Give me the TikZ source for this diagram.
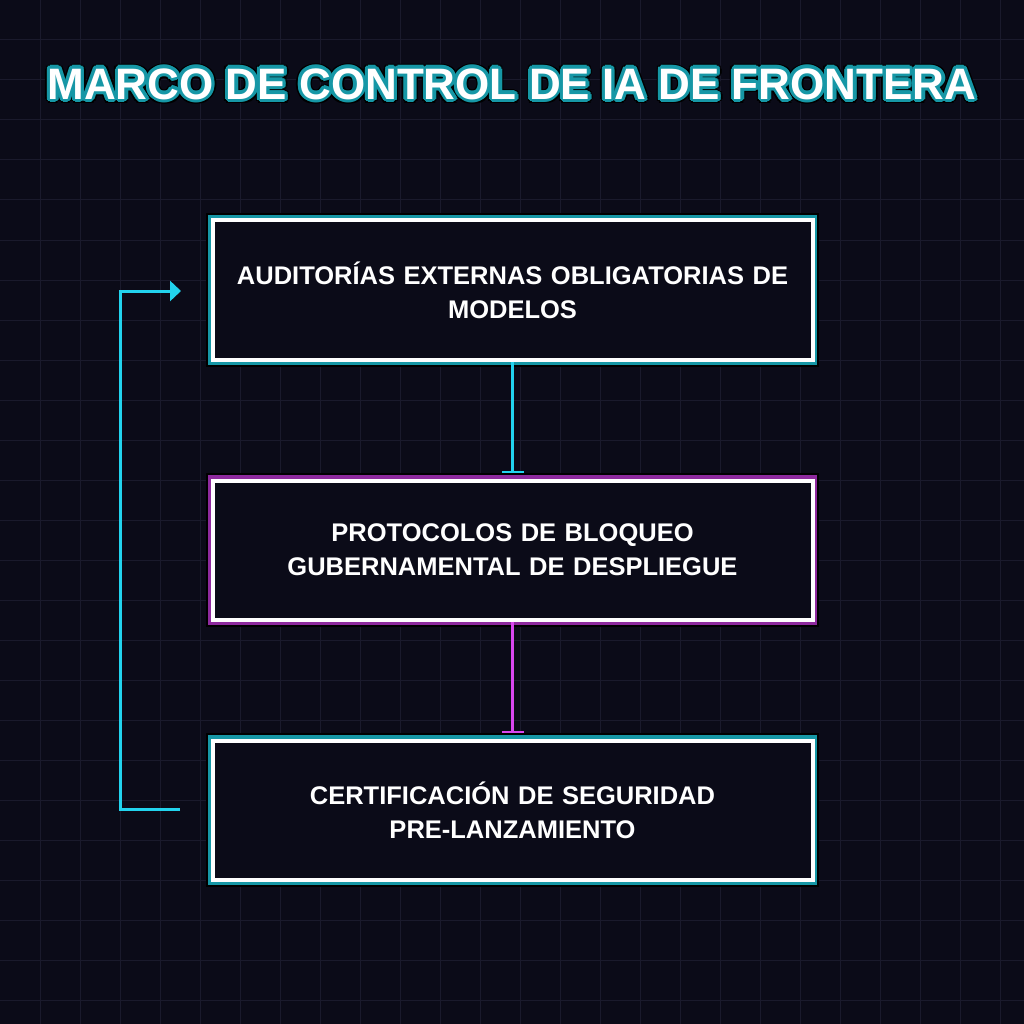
\documentclass[tikz,border=0pt]{standalone}
\usepackage{fontspec}
\setmainfont{Liberation Sans}
\usetikzlibrary{arrows.meta,calc}
\definecolor{bg}{HTML}{0B0B18}
\definecolor{gridc}{HTML}{1A1A2C}
\definecolor{cyanc}{HTML}{22D3EE}
\definecolor{tealc}{HTML}{1697A6}
\definecolor{magc}{HTML}{D946EF}
\definecolor{purc}{HTML}{8E2A9E}
\tikzset{
  box/.style={draw=white,line width=4pt,fill=bg,minimum width=600pt,minimum height=139pt,inner sep=0pt,
    font=\bfseries\fontsize{25.5pt}{34pt}\selectfont,text=white,align=center,text width=590pt},
  link/.style={line width=3pt,-{Bar[width=22pt,line width=2pt]}},
}
\begin{document}
\begin{tikzpicture}[x=1pt,y=-1pt]
\fill[bg] (0,0) rectangle (1024,1024);
\useasboundingbox (0,0) rectangle (1024,1024);
\foreach \i in {40,80,...,1000}{\draw[gridc,line width=1pt] (\i,0)--(\i,1024); \draw[gridc,line width=1pt] (0,\i)--(1024,\i);}
% title
\foreach \a in {0,30,...,330}{\node[text=black,font=\bfseries\fontsize{44pt}{44pt}\selectfont] at ($(512,84)+(\a:4.6)$) {MARCO DE CONTROL DE IA DE FRONTERA};}
\foreach \a in {0,30,...,330}{\node[text=tealc,font=\bfseries\fontsize{44pt}{44pt}\selectfont] at ($(512,84)+(\a:3.2)$) {MARCO DE CONTROL DE IA DE FRONTERA};}
\node[text=white,font=\bfseries\fontsize{44pt}{44pt}\selectfont] (title) at (512,84) {MARCO DE CONTROL DE IA DE FRONTERA};
% boxes with glow
\foreach \y/\c in {290/tealc,550/purc,810/tealc}{
  \draw[black,line width=2pt] (207,\y-76) rectangle (818,\y+76);
  \draw[\c,line width=6pt] (211,\y-72) rectangle (814,\y+72);
}
\node[box] (b1) at (512.5,290) {AUDITORÍAS EXTERNAS OBLIGATORIAS DE\\MODELOS};
\node[box] (b2) at (512.5,550) {PROTOCOLOS DE BLOQUEO\\GUBERNAMENTAL DE DESPLIEGUE};
\node[box] (b3) at (512.5,810) {CERTIFICACIÓN DE SEGURIDAD\\PRE-LANZAMIENTO};
\draw[link,cyanc] (b1.south) -- ++(0,111);
\draw[link,magc] (b2.south) -- ++(0,111);
\coordinate (fs) at (180,809);
\coordinate (fe) at (181,291);
\draw[cyanc,line width=3pt,-{Triangle[length=11pt,width=20pt]}] (fs) -- (120,809) -- (120,291) -- (fe);
\end{tikzpicture}
\end{document}
